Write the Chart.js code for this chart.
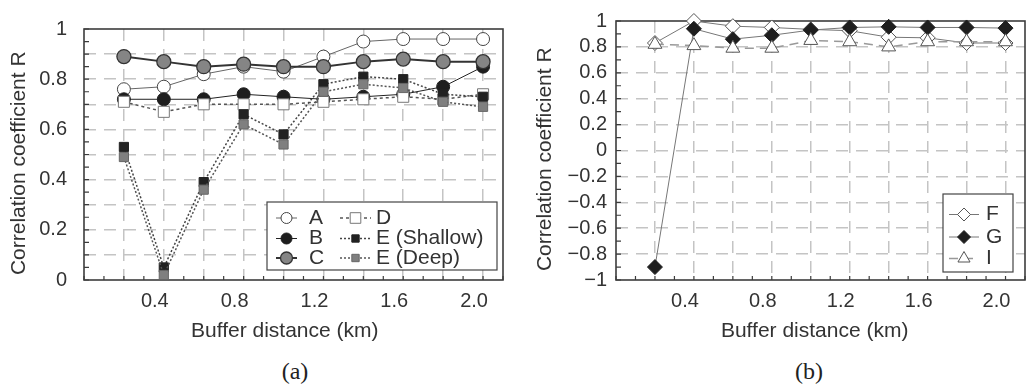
<!DOCTYPE html>
<html>
<head>
<meta charset="utf-8">
<script src="https://cdn.jsdelivr.net/npm/chart.js@4.4.0/dist/chart.umd.min.js"></script>
<style>
  body { margin: 0; background: #fff; width: 1034px; height: 390px; position: relative; overflow: hidden; }
  canvas { position: absolute; top: 0; }
  #chartA { left: 0; }
  #chartB { left: 520px; }
  .cap { position: absolute; top: 359px; font-family: "Liberation Serif", "Times New Roman", serif; font-size: 24px; line-height: 24px; color: #222; transform: translateX(-50%); }
</style>
</head>
<body>
<canvas id="chartA" width="520" height="350"></canvas>
<canvas id="chartB" width="514" height="350"></canvas>
<div class="cap" style="left:295px">(a)</div>
<div class="cap" style="left:809px">(b)</div>
<script>
// buffer distances (km)
const distance = [0.2, 0.4, 0.6, 0.8, 1.0, 1.2, 1.4, 1.6, 1.8, 2.0];

// panel (a)
const seriesA = [0.76, 0.77, 0.82, 0.85, 0.83, 0.89, 0.95, 0.96, 0.96, 0.96];
const seriesB = [0.72, 0.72, 0.72, 0.74, 0.73, 0.72, 0.73, 0.74, 0.77, 0.85];
const seriesC = [0.89, 0.87, 0.85, 0.86, 0.85, 0.85, 0.87, 0.88, 0.87, 0.87];
const seriesD = [0.71, 0.67, 0.70, 0.70, 0.70, 0.71, 0.72, 0.73, 0.72, 0.74];
const seriesEShallow = [0.53, 0.05, 0.39, 0.66, 0.58, 0.78, 0.81, 0.80, 0.74, 0.73];
const seriesEDeep = [0.49, 0.02, 0.36, 0.62, 0.54, 0.75, 0.78, 0.765, 0.71, 0.69];

// panel (b)
const seriesF = [0.83, 1.0, 0.96, 0.95, 0.935, 0.925, 0.875, 0.87, 0.83, 0.83];
const seriesG = [-0.90, 0.94, 0.86, 0.89, 0.93, 0.95, 0.955, 0.95, 0.95, 0.945];
const seriesI = [0.82, 0.81, 0.79, 0.79, 0.85, 0.84, 0.80, 0.84, 0.84, 0.84];

const FONT = '"Liberation Sans", Arial, sans-serif';
const TXT = '#333';
const GRID = '#c4c4c4';
const NONE = 'rgba(0,0,0,0)';

function pts(vals) {
  return distance.map((x, i) => ({ x: x, y: vals[i] }));
}

function fmtY(v) {
  const k = Math.round(v * 10);
  if (k === 0) return '0';
  if (Math.abs(k) === 10) return k > 0 ? '1' : '\u22121';
  return (k / 10).toFixed(1).replace('-', '\u2212');
}

function drawMarker(ctx, style, x, y, r, fill, stroke, bw) {
  ctx.beginPath();
  if (style === 'circle') {
    ctx.arc(x, y, r, 0, Math.PI * 2);
  } else if (style === 'rect') {
    const s = r * Math.SQRT1_2;
    ctx.rect(x - s, y - s, 2 * s, 2 * s);
  } else if (style === 'rectRot') {
    ctx.moveTo(x - r, y); ctx.lineTo(x, y - r); ctx.lineTo(x + r, y); ctx.lineTo(x, y + r);
    ctx.closePath();
  } else if (style === 'triangle') {
    ctx.moveTo(x, y - r);
    ctx.lineTo(x + r * Math.sin(Math.PI * 2 / 3), y + r / 2);
    ctx.lineTo(x - r * Math.sin(Math.PI * 2 / 3), y + r / 2);
    ctx.closePath();
  }
  ctx.fillStyle = fill;
  ctx.fill();
  ctx.lineWidth = bw;
  ctx.strokeStyle = stroke;
  ctx.stroke();
}

// box round the plot plus small inward tick marks
const frame = {
  id: 'frame',
  beforeDatasetsDraw(chart) {
    const { ctx, chartArea: a, scales } = chart;
    ctx.save();
    ctx.strokeStyle = '#3c3c3c';
    ctx.lineWidth = 1.2;
    ctx.beginPath();
    scales.x.ticks.forEach(t => {
      const px = scales.x.getPixelForValue(t.value);
      ctx.moveTo(px, a.bottom); ctx.lineTo(px, a.bottom - 4);
    });
    scales.y.ticks.forEach(t => {
      const py = scales.y.getPixelForValue(t.value);
      ctx.moveTo(a.left, py); ctx.lineTo(a.left + 5, py);
    });
    ctx.stroke();
    ctx.lineWidth = 1.6;
    ctx.strokeRect(a.left, a.top, a.width, a.height);
    ctx.restore();
  }
};

function boxLegend(lay) {
  return {
    id: 'boxLegend',
    afterDraw(chart) {
      const ctx = chart.ctx;
      const b = lay.box;
      ctx.save();
      ctx.fillStyle = '#fff';
      ctx.fillRect(b[0], b[1], b[2], b[3]);
      ctx.strokeStyle = '#444';
      ctx.lineWidth = 1.2;
      ctx.strokeRect(b[0], b[1], b[2], b[3]);
      lay.items.forEach(it => {
        const ds = chart.data.datasets[it.ds];
        ctx.strokeStyle = ds.borderColor;
        ctx.lineWidth = ds.borderWidth;
        ctx.setLineDash(ds.borderDash || []);
        ctx.beginPath(); ctx.moveTo(it.x0, it.y); ctx.lineTo(it.x1, it.y); ctx.stroke();
        ctx.setLineDash([]);
        drawMarker(ctx, ds.pointStyle, (it.x0 + it.x1) / 2, it.y, it.r,
          ds.pointBackgroundColor, ds.pointBorderColor, ds.pointBorderWidth);
        ctx.fillStyle = TXT;
        ctx.font = '21px ' + FONT;
        ctx.textBaseline = 'middle';
        ctx.textAlign = 'left';
        ctx.fillText(ds.label, it.tx, it.y);
      });
      ctx.restore();
    }
  };
}

function makeOptions(p) {
  return {
    responsive: false,
    animation: false,
    events: [],
    layout: { padding: { top: 16, right: p.padRight, left: 0, bottom: 0 } },
    plugins: { legend: { display: false }, tooltip: { enabled: false } },
    scales: {
      x: {
        type: 'linear', min: 0, max: 2.1,
        afterFit: s => { s.height = 70; },
        grid: {
          drawTicks: false, lineWidth: 1.5,
          color: c => {
            const k = Math.round(c.tick.value * 10);
            return (k > 0 && k % 2 === 0) ? GRID : NONE;
          }
        },
        border: { display: false, dash: [12, 8] },
        ticks: {
          stepSize: 0.1, autoSkip: false, maxRotation: 0, padding: 9, labelOffset: -9,
          color: TXT, font: { family: FONT, size: 20 },
          callback: v => {
            const k = Math.round(v * 10);
            return (k > 0 && k % 4 === 0) ? (k / 10).toFixed(1) : '';
          }
        },
        title: {
          display: true, text: 'Buffer distance (km)' + p.xPad, color: TXT,
          font: { family: FONT, size: 21 }, padding: { top: 0, bottom: 6.4 }
        }
      },
      y: {
        type: 'linear', min: p.yMin, max: 1,
        afterFit: s => { s.width = p.plotLeft; },
        grid: {
          drawTicks: false, lineWidth: 1.5,
          color: c => {
            const k = Math.round(c.tick.value * 100);
            return (k % p.gridStep === 0 && k !== 100 && k !== p.yMin * 100) ? GRID : NONE;
          }
        },
        border: { display: false, dash: [12, 8] },
        ticks: {
          stepSize: p.tickStep, autoSkip: false, padding: p.labelPad,
          color: TXT, font: { family: FONT, size: 20 },
          callback: v => (Math.round(v * 100) % 20 === 0 ? fmtY(v) : '')
        },
        title: {
          display: true, text: 'Correlation coefficient R   ', color: TXT,
          font: { family: FONT, size: 21 }, padding: { top: p.titlePad, bottom: 0 }
        }
      }
    }
  };
}

function line(label, vals, o) {
  return Object.assign({
    label: label,
    data: pts(vals),
    clip: false,
    fill: false,
    tension: 0,
    pointBorderWidth: 1
  }, o);
}

new Chart(document.getElementById('chartA'), {
  type: 'line',
  data: {
    datasets: [
      line('A', seriesA, { order: 6, borderColor: '#666', borderWidth: 1, pointStyle: 'circle', pointRadius: 6.5, pointBackgroundColor: '#fff', pointBorderColor: '#444' }),
      line('B', seriesB, { order: 5, borderColor: '#222', borderWidth: 1, pointStyle: 'circle', pointRadius: 6.5, pointBackgroundColor: '#1e1e1e', pointBorderColor: '#1e1e1e' }),
      line('C', seriesC, { order: 4, borderColor: '#333', borderWidth: 2, pointStyle: 'circle', pointRadius: 7, pointBackgroundColor: '#858585', pointBorderColor: '#333', pointBorderWidth: 1.3 }),
      line('D', seriesD, { order: 3, borderColor: '#555', borderWidth: 1.5, borderDash: [3, 3], pointStyle: 'rect', pointRadius: 7.8, pointBackgroundColor: '#fff', pointBorderColor: '#777' }),
      line('E (Shallow)', seriesEShallow, { order: 2, borderColor: '#444', borderWidth: 1.5, borderDash: [2, 2], pointStyle: 'rect', pointRadius: 6.5, pointBackgroundColor: '#222', pointBorderColor: '#222' }),
      line('E (Deep)', seriesEDeep, { order: 1, borderColor: '#555', borderWidth: 1.5, borderDash: [2, 2], pointStyle: 'rect', pointRadius: 6.5, pointBackgroundColor: '#7f7f7f', pointBorderColor: '#666' })
    ]
  },
  options: makeOptions({ padRight: 17, plotLeft: 84, yMin: 0, tickStep: 0.05, gridStep: 10, labelPad: 17, titlePad: 6.8, xPad: '   ' }),
  plugins: [frame, boxLegend({
    box: [267, 202, 230, 68],
    items: [
      { ds: 0, x0: 276, x1: 297, tx: 309, y: 218, r: 5.5 },
      { ds: 1, x0: 276, x1: 297, tx: 309, y: 238.5, r: 5.5 },
      { ds: 2, x0: 276, x1: 297, tx: 309, y: 258, r: 6 },
      { ds: 3, x0: 340, x1: 371, tx: 376, y: 218, r: 7.5 },
      { ds: 4, x0: 340, x1: 371, tx: 376, y: 238.5, r: 5.2 },
      { ds: 5, x0: 340, x1: 371, tx: 376, y: 258, r: 5.2 }
    ]
  })]
});

new Chart(document.getElementById('chartB'), {
  type: 'line',
  data: {
    datasets: [
      line('F', seriesF, { order: 3, borderColor: '#777', borderWidth: 1, pointStyle: 'rectRot', pointRadius: 7.5, pointBackgroundColor: '#fff', pointBorderColor: '#555' }),
      line('G', seriesG, { order: 2, borderColor: '#777', borderWidth: 1, pointStyle: 'rectRot', pointRadius: 7.5, pointBackgroundColor: '#1e1e1e', pointBorderColor: '#1e1e1e' }),
      line('I', seriesI, { order: 1, borderColor: '#999', borderWidth: 1.5, borderDash: [9, 6], pointStyle: 'triangle', pointRadius: 8, pointBackgroundColor: '#fff', pointBorderColor: '#555' })
    ]
  },
  options: makeOptions({ padRight: 1, plotLeft: 96, yMin: -1, tickStep: 0.1, gridStep: 20, labelPad: 9, titlePad: 12.4, xPad: '  ' }),
  plugins: [frame, boxLegend({
    box: [423, 194, 70, 78],
    items: [
      { ds: 0, x0: 429, x1: 459, tx: 466, y: 214.5, r: 6.5 },
      { ds: 1, x0: 429, x1: 459, tx: 466, y: 237, r: 6.5 },
      { ds: 2, x0: 429, x1: 459, tx: 466, y: 258.5, r: 7 }
    ]
  })]
});
</script>
</body>
</html>
